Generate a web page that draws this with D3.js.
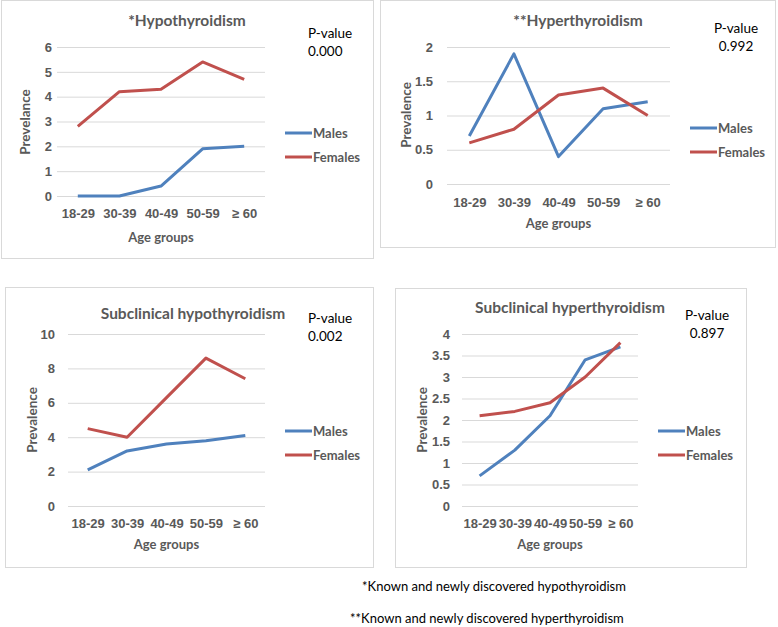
<!DOCTYPE html>
<html>
<head>
<meta charset="utf-8">
<script src="https://cdn.jsdelivr.net/npm/d3@7"></script>
<style>
  body { margin: 0; background: #fff; }
  svg { display: block; font-family: Lato, "Liberation Sans", sans-serif; }
  .tick text { fill: #595959; font-weight: bold; font-size: 13px; }
  .grid .tick line { stroke: #d9d9d9; }
</style>
</head>
<body>
<div id="chart"></div>
<script>
// age groups on the x axis
var ageGroups = ["18-29", "30-39", "40-49", "50-59", "\u2265 60"];

// prevalence per age group
var hypoMales = [0, 0, 0.4, 1.9, 2.0];
var hypoFemales = [2.8, 4.2, 4.3, 5.4, 4.7];
var hyperMales = [0.7, 1.9, 0.4, 1.1, 1.2];
var hyperFemales = [0.6, 0.8, 1.3, 1.4, 1.0];
var subHypoMales = [2.1, 3.2, 3.6, 3.8, 4.1];
var subHypoFemales = [4.5, 4.0, 6.3, 8.6, 7.4];
var subHyperMales = [0.7, 1.3, 2.1, 3.4, 3.7];
var subHyperFemales = [2.1, 2.2, 2.4, 3.0, 3.8];

var hypoTicks = [0, 1, 2, 3, 4, 5, 6];
var hyperTicks = [0, 0.5, 1, 1.5, 2];
var subHypoTicks = [0, 2, 4, 6, 8, 10];
var subHyperTicks = [0, 0.5, 1, 1.5, 2, 2.5, 3, 3.5, 4];

var pValues = ["0.000", "0.992", "0.002", "0.897"];

var footnotes = ["*Known and newly discovered hypothyroidism",
                 "**Known and newly discovered hyperthyroidism"];

var blue = "#4f81bd", red = "#c0504d";

var svg = d3.select("#chart").append("svg")
    .attr("width", 778)
    .attr("height", 627);

// one panel per config
var panels = [
  { box: [1, 0, 372, 258], left: 57, right: 265, top: 47, bottom: 196, pad: 5,
    ticks: hypoTicks, males: hypoMales, females: hypoFemales,
    title: "*Hypothyroidism", titleX: 187, titleY: 21,
    p: pValues[0], pX: 308, pY: 33, pAnchor: "start",
    yTitle: "Prevelance", yTitleX: 25, yTitleY: 122,
    legX: 285, legY: 133, xLabY: 213, xTitleY: 237 },
  { box: [380, 0, 395, 247], left: 447, right: 670, top: 47, bottom: 184, pad: 14,
    ticks: hyperTicks, males: hyperMales, females: hyperFemales,
    title: "**Hyperthyroidism", titleX: 578, titleY: 21,
    p: pValues[1], pX: 736, pY: 28, pAnchor: "middle",
    yTitle: "Prevalence", yTitleX: 406, yTitleY: 115,
    legX: 690, legY: 128, xLabY: 202, xTitleY: 223 },
  { box: [5, 287, 368, 280], left: 68, right: 265, top: 334, bottom: 506, pad: 13,
    ticks: subHypoTicks, males: subHypoMales, females: subHypoFemales,
    title: "Subclinical hypothyroidism", titleX: 193, titleY: 314,
    p: pValues[2], pX: 308, pY: 318, pAnchor: "start",
    yTitle: "Prevalence", yTitleX: 32, yTitleY: 420,
    legX: 285, legY: 431, xLabY: 523, xTitleY: 544 },
  { box: [395, 288, 351, 279], left: 462, right: 638, top: 334, bottom: 506, pad: 12,
    ticks: subHyperTicks, males: subHyperMales, females: subHyperFemales,
    title: "Subclinical hyperthyroidism", titleX: 570, titleY: 308,
    p: pValues[3], pX: 707, pY: 315, pAnchor: "middle",
    yTitle: "Prevalence", yTitleX: 422, yTitleY: 420,
    legX: 658, legY: 431, xLabY: 523, xTitleY: 544 }
];

panels.forEach(drawPanel);

function drawPanel(c) {
  var g = svg.append("g");

  g.append("rect")
    .attr("x", c.box[0] + 0.5).attr("y", c.box[1] + 0.5)
    .attr("width", c.box[2]).attr("height", c.box[3])
    .attr("fill", "#fff").attr("stroke", "#d9d9d9");

  var x = d3.scalePoint().domain(ageGroups).range([c.left, c.right]).padding(0.5);
  var y = d3.scaleLinear().domain([0, d3.max(c.ticks)]).range([c.bottom, c.top]);

  // gridlines + y labels
  g.append("g")
    .attr("class", "grid")
    .attr("transform", "translate(" + c.left + ",0)")
    .call(d3.axisLeft(y).tickValues(c.ticks).tickFormat(d3.format("")).tickSize(-(c.right - c.left)).tickPadding(c.pad))
    .call(function(a) { a.select(".domain").remove(); });

  // x labels
  g.append("g")
    .attr("transform", "translate(0," + c.xLabY + ")")
    .call(d3.axisBottom(x).tickSize(0).tickPadding(0))
    .call(function(a) {
      a.select(".domain").remove();
      a.selectAll("text").attr("y", 0).attr("dy", "0.35em");
    });

  var line = d3.line()
    .x(function(d, i) { return x(ageGroups[i]); })
    .y(function(d) { return y(d); });

  [[c.males, blue], [c.females, red]].forEach(function(s) {
    g.append("path")
      .datum(s[0])
      .attr("d", line)
      .attr("fill", "none")
      .attr("stroke", s[1])
      .attr("stroke-width", 3)
      .attr("stroke-linejoin", "round");
  });

  g.append("text")
    .attr("x", c.titleX).attr("y", c.titleY)
    .attr("dy", "0.35em")
    .attr("text-anchor", "middle")
    .attr("fill", "#595959").attr("font-weight", "bold").attr("font-size", "15.5px")
    .text(c.title);

  var pv = g.append("text")
    .attr("text-anchor", c.pAnchor)
    .attr("font-size", "13.5px").attr("fill", "#000");
  pv.append("tspan").attr("x", c.pX).attr("y", c.pY).attr("dy", "0.35em").text("P-value");
  pv.append("tspan").attr("x", c.pX).attr("y", c.pY + 18).attr("dy", "0.35em").text(c.p);

  g.append("text")
    .attr("transform", "translate(" + c.yTitleX + "," + c.yTitleY + ") rotate(-90)")
    .attr("dy", "0.35em")
    .attr("text-anchor", "middle")
    .attr("fill", "#595959").attr("font-weight", "bold").attr("font-size", "13.5px")
    .text(c.yTitle);

  g.append("text")
    .attr("x", (c.left + c.right) / 2).attr("y", c.xTitleY)
    .attr("dy", "0.35em")
    .attr("text-anchor", "middle")
    .attr("fill", "#595959").attr("font-weight", "bold").attr("font-size", "13px")
    .text("Age groups");

  // legend
  [["Males", blue], ["Females", red]].forEach(function(s, i) {
    var ly = c.legY + i * 24;
    g.append("line")
      .attr("x1", c.legX).attr("x2", c.legX + 27)
      .attr("y1", ly).attr("y2", ly)
      .attr("stroke", s[1]).attr("stroke-width", 3);
    g.append("text")
      .attr("x", c.legX + 28).attr("y", ly)
      .attr("dy", "0.35em")
      .attr("fill", "#595959").attr("font-weight", "bold").attr("font-size", "13px")
      .text(s[0]);
  });
}

// footnotes
svg.append("text")
  .attr("x", 362).attr("y", 586).attr("dy", "0.35em")
  .attr("font-size", "13px").attr("fill", "#000")
  .text(footnotes[0]);
svg.append("text")
  .attr("x", 350).attr("y", 618).attr("dy", "0.35em")
  .attr("font-size", "13px").attr("fill", "#000")
  .text(footnotes[1]);
</script>
</body>
</html>
